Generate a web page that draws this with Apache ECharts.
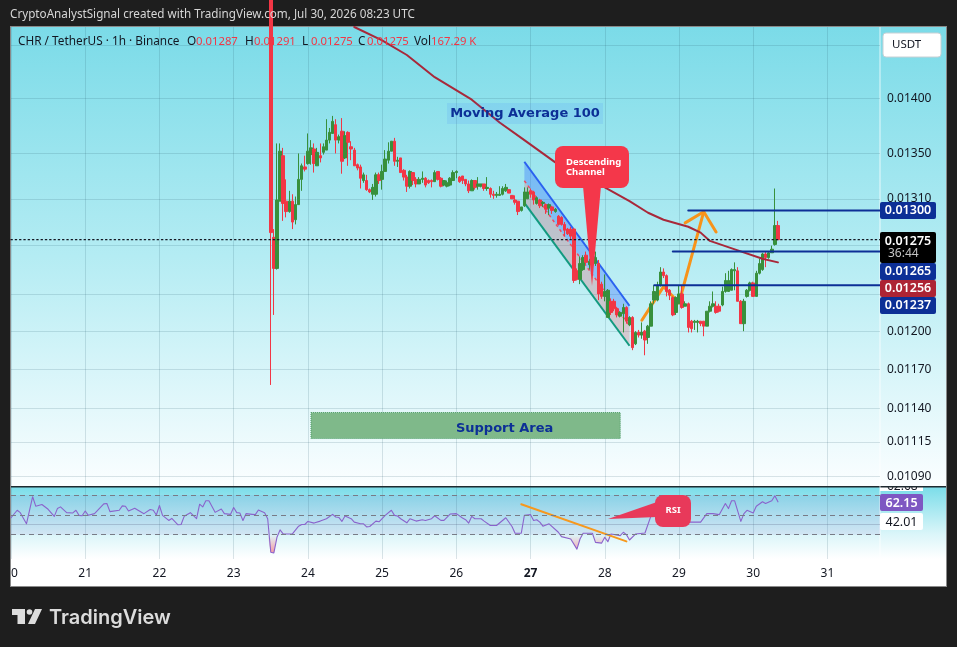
<!DOCTYPE html>
<html>
<head>
<meta charset="utf-8">
<title>CHR / TetherUS</title>
<style>html,body{margin:0;padding:0;background:#1e1e1e}#main{width:957px;height:647px}</style>
<script src="https://cdn.jsdelivr.net/npm/echarts@6/dist/echarts.min.js"></script>
</head>
<body>
<div id="main"></div>
<script>
// hourly axis: 20th 00:00 to 31st + 17h
const days = [20, 21, 22, 23, 24, 25, 26, 27, 28, 29, 30, 31]
const hoursOnAxis = 282
const firstCandleHour = 84

// open, close, low, high
const candles = [
  [0.0150, 0.01281, 0.01158, 0.0152],
  [0.01277, 0.01251, 0.01213, 0.01284],
  [0.01251, 0.01309, 0.0125, 0.01359],
  [0.01308, 0.01352, 0.01308, 0.01359],
  [0.01348, 0.01306, 0.01291, 0.01355],
  [0.01308, 0.01299, 0.01294, 0.01327],
  [0.01299, 0.01308, 0.01298, 0.01317],
  [0.01308, 0.0129, 0.01284, 0.01314],
  [0.01292, 0.01305, 0.01288, 0.01312],
  [0.01305, 0.01327, 0.01305, 0.0135],
  [0.01327, 0.01339, 0.01317, 0.01341],
  [0.01338, 0.01336, 0.01334, 0.01348],
  [0.01341, 0.01352, 0.0134, 0.01368],
  [0.01349, 0.01355, 0.0134, 0.01362],
  [0.01354, 0.01341, 0.01333, 0.01359],
  [0.01339, 0.01351, 0.01339, 0.01355],
  [0.01348, 0.01346, 0.01342, 0.01359],
  [0.01351, 0.01356, 0.01349, 0.01359],
  [0.01353, 0.01362, 0.01353, 0.01381],
  [0.01362, 0.01369, 0.01359, 0.01373],
  [0.01368, 0.01379, 0.01368, 0.01384],
  [0.01376, 0.01362, 0.0135, 0.01381],
  [0.01362, 0.01365, 0.01359, 0.01367],
  [0.0137, 0.01343, 0.01332, 0.01382],
  [0.01346, 0.01366, 0.01345, 0.0137],
  [0.01369, 0.0136, 0.01339, 0.0137],
  [0.01356, 0.01354, 0.01344, 0.01361],
  [0.01353, 0.01339, 0.01339, 0.01355],
  [0.0134, 0.01337, 0.01335, 0.01341],
  [0.01338, 0.01328, 0.01319, 0.0134],
  [0.01326, 0.01331, 0.01324, 0.01333],
  [0.01326, 0.01318, 0.01317, 0.01331],
  [0.01318, 0.01316, 0.01315, 0.01319],
  [0.01314, 0.0132, 0.01309, 0.01323],
  [0.01314, 0.01331, 0.01312, 0.01333],
  [0.01331, 0.01326, 0.01323, 0.01333],
  [0.01327, 0.01334, 0.01318, 0.0134],
  [0.01334, 0.01345, 0.01334, 0.01353],
  [0.01344, 0.01352, 0.01341, 0.0136],
  [0.01352, 0.01361, 0.01352, 0.01361],
  [0.01361, 0.01343, 0.01339, 0.01364],
  [0.01343, 0.01344, 0.01338, 0.01347],
  [0.01346, 0.01333, 0.01333, 0.01346],
  [0.01335, 0.01329, 0.01326, 0.01336],
  [0.01329, 0.01321, 0.01316, 0.01331],
  [0.01321, 0.01334, 0.01319, 0.01335],
  [0.01333, 0.01326, 0.01322, 0.01333],
  [0.01327, 0.01323, 0.0132, 0.01329],
  [0.01323, 0.01327, 0.01323, 0.01329],
  [0.01327, 0.01328, 0.01324, 0.01334],
  [0.01328, 0.01322, 0.0132, 0.01329],
  [0.01326, 0.01324, 0.01323, 0.01327],
  [0.01326, 0.01325, 0.0132, 0.01327],
  [0.01325, 0.01333, 0.01325, 0.01335],
  [0.01334, 0.01327, 0.01326, 0.01334],
  [0.01328, 0.01321, 0.0132, 0.01329],
  [0.01322, 0.01326, 0.01321, 0.01326],
  [0.01321, 0.01324, 0.0132, 0.01326],
  [0.01322, 0.01328, 0.01321, 0.01329],
  [0.01326, 0.01333, 0.01326, 0.01335],
  [0.01333, 0.01334, 0.01328, 0.01335],
  [0.01329, 0.01325, 0.01324, 0.0133],
  [0.0133, 0.01326, 0.01323, 0.0133],
  [0.01327, 0.01323, 0.01321, 0.01327],
  [0.01323, 0.01317, 0.01315, 0.01326],
  [0.01317, 0.01326, 0.01317, 0.01327],
  [0.01326, 0.0132, 0.01318, 0.01326],
  [0.01321, 0.01323, 0.01318, 0.01329],
  [0.01321, 0.01323, 0.0132, 0.01323],
  [0.01323, 0.01319, 0.01317, 0.01323],
  [0.01319, 0.0132, 0.01317, 0.01329],
  [0.01319, 0.01314, 0.01311, 0.0132],
  [0.01314, 0.01313, 0.0131, 0.01317],
  [0.01313, 0.01314, 0.01311, 0.01316],
  [0.01313, 0.01314, 0.01313, 0.01321],
  [0.01314, 0.01319, 0.01313, 0.01321],
  [0.01317, 0.0132, 0.01316, 0.01323],
  [0.01318, 0.01315, 0.01315, 0.01318],
  [0.01313, 0.0131, 0.0131, 0.01313],
  [0.01309, 0.01307, 0.01305, 0.01313],
  [0.01308, 0.01299, 0.01296, 0.01308],
  [0.013, 0.01303, 0.01299, 0.01303],
  [0.01304, 0.01316, 0.01303, 0.0132],
  [0.0131, 0.01316, 0.0131, 0.0132],
  [0.01317, 0.01314, 0.01311, 0.01319],
  [0.01316, 0.01309, 0.01305, 0.01317],
  [0.01306, 0.01311, 0.01305, 0.01312],
  [0.01309, 0.01304, 0.01302, 0.0131],
  [0.01306, 0.01307, 0.01303, 0.01308],
  [0.01305, 0.01301, 0.01297, 0.01306],
  [0.01302, 0.01305, 0.01296, 0.01306],
  [0.01303, 0.013, 0.01297, 0.01304],
  [0.01299, 0.01301, 0.01298, 0.01302],
  [0.01295, 0.01288, 0.01287, 0.01296],
  [0.01294, 0.01288, 0.01287, 0.01295],
  [0.01288, 0.01283, 0.01278, 0.0129],
  [0.01284, 0.0128, 0.01279, 0.01285],
  [0.01284, 0.01278, 0.01275, 0.01286],
  [0.01284, 0.01241, 0.01239, 0.01285],
  [0.01249, 0.01242, 0.01241, 0.01251],
  [0.01242, 0.01255, 0.01238, 0.01261],
  [0.0125, 0.0126, 0.01249, 0.01262],
  [0.01262, 0.01256, 0.01254, 0.01265],
  [0.01254, 0.01257, 0.0125, 0.01259],
  [0.01257, 0.01254, 0.01251, 0.01261],
  [0.01255, 0.0126, 0.01253, 0.01265],
  [0.01255, 0.0123, 0.01225, 0.01258],
  [0.01238, 0.01228, 0.01226, 0.0124],
  [0.01228, 0.01232, 0.01224, 0.01246],
  [0.01211, 0.01233, 0.01211, 0.01234],
  [0.01224, 0.01215, 0.01213, 0.01226],
  [0.01224, 0.01218, 0.01216, 0.01226],
  [0.01218, 0.01213, 0.01211, 0.01219],
  [0.01212, 0.01215, 0.01211, 0.01216],
  [0.01214, 0.01219, 0.01199, 0.01222],
  [0.01219, 0.01208, 0.01206, 0.0122],
  [0.01205, 0.01211, 0.01204, 0.01212],
  [0.01211, 0.01187, 0.01185, 0.01212],
  [0.0119, 0.01199, 0.01189, 0.012],
  [0.01199, 0.01197, 0.01195, 0.01201],
  [0.01197, 0.01199, 0.01194, 0.01207],
  [0.012, 0.01193, 0.01181, 0.01201],
  [0.01195, 0.01204, 0.0119, 0.01205],
  [0.01204, 0.01222, 0.01204, 0.01224],
  [0.01225, 0.01232, 0.01222, 0.01237],
  [0.01225, 0.01237, 0.01224, 0.0124],
  [0.01237, 0.01248, 0.01236, 0.01252],
  [0.01248, 0.01245, 0.01243, 0.01251],
  [0.01245, 0.01232, 0.01228, 0.01246],
  [0.01233, 0.01229, 0.01225, 0.01234],
  [0.01227, 0.01213, 0.01212, 0.01228],
  [0.01215, 0.01227, 0.01213, 0.01228],
  [0.01222, 0.0123, 0.01222, 0.01237],
  [0.0123, 0.01219, 0.01218, 0.01237],
  [0.0122, 0.01222, 0.0122, 0.01224],
  [0.01222, 0.01203, 0.01199, 0.01223],
  [0.01208, 0.01202, 0.01199, 0.01209],
  [0.01207, 0.01208, 0.01201, 0.01209],
  [0.01207, 0.01208, 0.01199, 0.01209],
  [0.01208, 0.01206, 0.01204, 0.01208],
  [0.01208, 0.01204, 0.01196, 0.01208],
  [0.01204, 0.01216, 0.01204, 0.01216],
  [0.01216, 0.0122, 0.01215, 0.01224],
  [0.0122, 0.01222, 0.01219, 0.01232],
  [0.0122, 0.01215, 0.01214, 0.01224],
  [0.0122, 0.01216, 0.01215, 0.01222],
  [0.01221, 0.01232, 0.0122, 0.01236],
  [0.01232, 0.01241, 0.01231, 0.01247],
  [0.01232, 0.01241, 0.01232, 0.01249],
  [0.01233, 0.0125, 0.01233, 0.01251],
  [0.01249, 0.0125, 0.01233, 0.01256],
  [0.01249, 0.01224, 0.01224, 0.01252],
  [0.01224, 0.01206, 0.01206, 0.01225],
  [0.01206, 0.01224, 0.012, 0.01226],
  [0.01228, 0.01233, 0.01227, 0.01234],
  [0.01233, 0.01239, 0.01232, 0.0124],
  [0.01239, 0.01228, 0.01228, 0.0124],
  [0.01228, 0.01247, 0.01228, 0.01249],
  [0.01247, 0.01255, 0.01246, 0.01259],
  [0.0125, 0.01263, 0.01249, 0.01264],
  [0.01263, 0.0126, 0.01252, 0.01265],
  [0.0126, 0.01264, 0.01259, 0.01265],
  [0.01264, 0.01267, 0.01264, 0.0127],
  [0.01271, 0.01287, 0.0127, 0.01319],
  [0.01287, 0.01275, 0.01275, 0.01291]
]

const ma100Hours = [111, 120, 128, 137, 149, 158, 166, 176, 192, 200, 206, 211, 219, 223, 226, 235, 243, 248]
const ma100Values = [0.01468, 0.01455, 0.01441, 0.0142, 0.01399, 0.01378, 0.01362, 0.01342, 0.0132, 0.01308, 0.01298, 0.01292, 0.01286, 0.01281, 0.01274, 0.01266, 0.01259, 0.01256]

const rsiHours = [0, 2, 3, 5, 7, 8, 10, 12, 14, 15, 16, 18, 20, 21, 22, 23, 24, 25, 27, 30, 31, 32, 35, 36, 37, 38, 40, 43, 45, 46, 47, 48, 49, 51, 52, 54, 55, 56, 58, 60, 61, 62, 63, 64, 66, 68, 69, 71, 72, 73, 74, 75, 76, 78, 79, 80, 82, 83, 84, 85, 86, 87, 88, 91, 93, 94, 95, 96, 98, 100, 102, 104, 105, 106, 107, 108, 110, 111, 113, 114, 115, 116, 118, 119, 121, 123, 124, 125, 126, 128, 129, 131, 133, 134, 136, 137, 139, 140, 142, 144, 146, 147, 148, 149, 150, 152, 153, 155, 157, 160, 162, 163, 165, 166, 168, 169, 170, 171, 172, 174, 177, 178, 181, 183, 184, 185, 188, 189, 191, 192, 193, 194, 197, 198, 199, 200, 202, 205, 207, 210, 211, 214, 215, 217, 219, 223, 225, 227, 229, 231, 232, 233, 234, 236, 237, 238, 240, 241, 243, 244, 246, 247, 248]
const rsiValues = [47.1, 54.6, 52.2, 41, 68.2, 58.7, 60.4, 55.6, 48.5, 56.3, 58, 52.2, 51.9, 54.6, 49.5, 49.1, 53.9, 49.5, 51.2, 61, 61.4, 53.2, 54.6, 59, 58.7, 53.9, 56.6, 51.2, 55.3, 54.6, 49.8, 59.4, 49.5, 44.4, 46.4, 40, 40.3, 48.5, 52.2, 46.1, 60.7, 58, 64.1, 64.1, 52.5, 55.9, 51.2, 50.5, 57.3, 52.2, 51.9, 44.4, 51.2, 50.5, 50.2, 54.9, 52.2, 46.1, 12.4, 11.7, 27.4, 34.9, 30.8, 30.8, 38.6, 40.3, 40.3, 43.4, 41.7, 43.7, 46.1, 50.5, 47.8, 47.4, 43.4, 48.8, 46.1, 42.7, 41, 41, 37.9, 38.3, 43.7, 43, 49.5, 54.6, 49.5, 48.8, 46.1, 42, 46.1, 43.7, 45.1, 44.4, 46.1, 49.1, 44.4, 44.4, 50.8, 51.2, 46.8, 45.1, 41.7, 48.5, 46.1, 46.1, 43.7, 39.3, 39.3, 47.1, 38.3, 31.5, 31.5, 49.5, 50.2, 44.4, 45.1, 42.7, 38.6, 41, 32.5, 28.1, 25.7, 15.5, 25.7, 31.5, 31.5, 22.3, 21.6, 27.4, 23, 30.8, 29.1, 32.5, 30.1, 24.7, 30.8, 31.8, 49.5, 59.7, 51.2, 43.4, 49.5, 47.8, 42.7, 42.7, 51.2, 51.2, 50.2, 61.4, 56.3, 64.1, 64.1, 43.4, 51.2, 54.6, 51.9, 58.7, 63.1, 61.4, 64.1, 69.2, 63.1]

const priceTicks = [0.0145, 0.014, 0.0135, 0.0131, 0.0127, 0.0123, 0.012, 0.0117, 0.0114, 0.01115, 0.0109]
const rsiBands = [70, 50, 30]
const levelPrices = [0.013, 0.01265, 0.01237]
const levelStarts = [219, 214, 208]
const lastPrice = 0.01275

// Descending channel drawing
const channelHours = [166, 200]
const channelTop = [0.013426, 0.012204]
const channelMid = [0.013258, 0.012043]
const channelBottom = [0.013065, 0.011885]

// orange hand-drawn arrow
const arrowHours = [204, 211, 216, 224]
const arrowPrices = [0.012087, 0.01236, 0.012227, 0.012989]
const arrowHeadHours = [218, 224, 228]
const arrowHeadPrices = [0.012893, 0.012989, 0.012816]
const rsiTrendHours = [165, 199]
const rsiTrendValues = [60.7, 23.3]

const supportHours = [97, 197]
const supportPrices = [0.01137, 0.011176]

const font = '"Noto Sans", sans-serif'
const green = '#38903c'
const red = '#f23645'
const navy = '#0c2f96'

const categories = []
for (let h = 0; h < hoursOnAxis; h++) categories.push(h % 24 === 0 ? String(days[h / 24]) : '')

const candleData = new Array(firstCandleHour).fill('-').concat(candles)
const zip = (xs, ys) => xs.map((x, i) => [x, ys[i]])

const rsiData = zip(rsiHours, rsiValues)
const rsiLow = rsiHours.map((h, i) => [h, Math.min(rsiValues[i], 30)])

function plainLine(name, data, color, width, z, type, axis) {
  return {
    name, type: 'line', data,
    xAxisIndex: axis || 0, yAxisIndex: axis || 0,
    symbol: 'none', silent: true, z,
    lineStyle: { color, width, type: type || 'solid', cap: 'round', join: 'round' }
  }
}

function renderChannel(params, api) {
  const pts = ys => channelHours.map((h, i) => api.coord([h, ys[i]]))
  const top = pts(channelTop)
  const mid = pts(channelMid)
  const bot = pts(channelBottom)
  return {
    type: 'group',
    children: [
      { type: 'polygon', shape: { points: top.concat(mid.slice().reverse()) }, style: { fill: 'rgba(41,98,255,0.32)' } },
      { type: 'polygon', shape: { points: mid.concat(bot.slice().reverse()) }, style: { fill: 'rgba(242,54,69,0.22)' } },
      { type: 'polyline', shape: { points: mid }, style: { stroke: '#ef4a62', lineWidth: 1.5, lineDash: [3, 3], fill: null } },
      { type: 'polyline', shape: { points: top }, style: { stroke: '#2a62f0', lineWidth: 2, fill: null } },
      { type: 'polyline', shape: { points: bot }, style: { stroke: '#129a80', lineWidth: 2, fill: null } }
    ]
  }
}

function rect(x, y, w, h, fill, z, r) {
  return { type: 'rect', silent: true, z, shape: { x, y, width: w, height: h, r: r || 0 }, style: { fill } }
}
function text(x, y, str, fill, size, z, extra) {
  return {
    type: 'text', silent: true, z, x, y,
    style: Object.assign({ text: str, fill, font: `${size}px ${font}`, textVerticalAlign: 'middle' }, extra || {})
  }
}
function tag(y, h, label, bg) {
  return [
    rect(880, y, 56, h, bg, 50, 2),
    text(908, y + h / 2, label, '#fff', 12.5, 51, { textAlign: 'center', font: `600 12.5px ${font}` })
  ]
}

const vGrad = stops => ({ type: 'linear', x: 0, y: 0, x2: 0, y2: 1, colorStops: stops })

const legendRed = [[196, '0.01287'], [254, '0.01291'], [311, '0.01275'], [367, '0.01275'], [431, '167.29 K']]
const legendBlack = [[187, 'O'], [245, 'H'], [302, 'L'], [358, 'C'], [414, 'Vol']]

const graphics = [
  // frame and pane backgrounds
  rect(10, 26, 937, 561, '#8a8a8a', -6),
  rect(11, 27, 935, 559, '#ffffff', -5),
  rect(11, 487, 935, 72, vGrad([{ offset: 0, color: '#7bdde9' }, { offset: 0.65, color: '#daf5f9' }, { offset: 1, color: '#ffffff' }]), -4),
  rect(880, 484, 43, 7, '#ffffff', -3),
  text(887, 486.5, '62.68', '#131722', 12, -3),
  rect(11, 27, 935, 459, vGrad([{ offset: 0, color: '#7bdbe8' }, { offset: 0.5, color: '#b4ecf3' }, { offset: 1, color: '#fbfeff' }]), -2),
  rect(11, 486, 935, 1.4, '#1e2a30', -1),
  rect(879.5, 27, 1, 532, 'rgba(255,255,255,0.75)', -1),

  // header and legend
  text(10, 15, 'CryptoAnalystSignal created with TradingView.com, Jul 30, 2026 08:23 UTC', '#d6d6d6', 11.7, 60),
  text(18, 42, 'CHR / TetherUS · 1h · Binance', '#131722', 11.8, 60),
  ...legendBlack.map(([x, s]) => text(x, 42, s, '#131722', 11.8, 60)),
  ...legendRed.map(([x, s]) => text(x, 42, s, red, 11.3, 60)),

  // USDT button
  rect(883, 33, 58, 24, '#ffffff', 50, 3),
  { type: 'rect', silent: true, z: 50, shape: { x: 883, y: 33, width: 58, height: 24, r: 3 }, style: { fill: 'none', stroke: '#c8d0d4', lineWidth: 1 } },
  text(892, 45, 'USDT', '#131722', 11.5, 51),

  // Moving Average note
  rect(447, 103, 156, 21, 'rgba(41,98,255,0.10)', 20),
  text(525, 114, 'Moving Average 100', navy, 13, 21, { textAlign: 'center', font: '600 13px "DejaVu Sans", sans-serif' }),

  // callouts
  { type: 'polygon', silent: true, z: 30, shape: { points: [[583, 186], [601, 186], [592, 286]] }, style: { fill: '#f4374a' } },
  rect(555, 146, 74, 42, '#f4374a', 30, 8),
  text(566, 162, 'Descending', '#fff', 9.5, 31, { font: `700 9.5px ${font}` }),
  text(566, 172, 'Channel', '#fff', 9.5, 31, { font: `700 9.5px ${font}` }),
  { type: 'polygon', silent: true, z: 30, shape: { points: [[608, 519], [657, 502], [657, 517]] }, style: { fill: '#e8395a' } },
  rect(655, 495, 36, 32, '#e8395a', 30, 8),
  text(673, 510, 'RSI', '#fff', 9.5, 31, { textAlign: 'center', font: `700 9.5px ${font}` }),

  // price tags
  ...tag(202, 17, '0.01300', navy),
  rect(880, 232, 56, 31, '#000000', 50, 2),
  text(908, 241, '0.01275', '#fff', 12.5, 51, { textAlign: 'center', font: `600 12.5px ${font}` }),
  text(888, 254, '36:44', '#c4c4c4', 12, 51),
  ...tag(263, 17, '0.01265', navy),
  ...tag(280, 17, '0.01256', '#ad2434'),
  ...tag(297, 17, '0.01237', navy),
  rect(880, 494, 43, 17, '#7e57c2', 50, 2),
  text(901.5, 503, '62.15', '#fff', 12.5, 51, { textAlign: 'center', font: `600 12.5px ${font}` }),
  rect(880, 513, 43, 17, '#ffffff', 50, 2),
  text(901.5, 522, '42.01', '#131722', 12.5, 51, { textAlign: 'center' }),

  // TradingView logo
  { type: 'polygon', silent: true, z: 60, shape: { points: [[12, 609], [25, 609], [25, 624], [17.5, 624], [17.5, 615], [12, 615]] }, style: { fill: '#dcdcdc' } },
  { type: 'circle', silent: true, z: 60, shape: { cx: 29.5, cy: 612, r: 2.8 }, style: { fill: '#dcdcdc' } },
  { type: 'polygon', silent: true, z: 60, shape: { points: [[35, 609], [42, 609], [35, 624], [28, 624]] }, style: { fill: '#dcdcdc' } },
  text(49, 618, 'TradingView', '#dcdcdc', 20, 60, { font: `600 20px Inter, ${font}` })
]

const splitColor = 'rgba(40,90,105,0.16)'

const option = {
  animation: false,
  backgroundColor: '#1e1e1e',
  textStyle: { fontFamily: font },
  grid: [
    { left: 11, right: 77, top: 27, height: 459 },
    { left: 11, right: 77, top: 487, height: 72 }
  ],
  xAxis: [
    {
      type: 'category', gridIndex: 0, data: categories, boundaryGap: false,
      axisLine: { show: false }, axisTick: { show: false }, axisLabel: { show: false },
      splitLine: { show: true, interval: 23, lineStyle: { color: splitColor, width: 1 } }
    },
    {
      type: 'category', gridIndex: 1, data: categories, boundaryGap: false,
      axisLine: { show: false }, axisTick: { show: false },
      splitLine: { show: true, interval: 23, lineStyle: { color: splitColor, width: 1 } },
      axisLabel: {
        interval: 23, margin: 9, color: '#131722', fontSize: 12, fontFamily: font,
        formatter: v => v === '20' ? '{first|0}' : v === '27' ? '{bold|27}' : v,
        rich: {
          first: { color: '#131722', fontSize: 12, padding: [0, 0, 0, 7] },
          bold: { color: '#131722', fontSize: 12, fontWeight: 700 }
        }
      }
    }
  ],
  yAxis: [
    {
      type: 'log', gridIndex: 0, position: 'right', logBase: 10,
      min: 0.01083, max: 0.01468, scale: true,
      axisLine: { show: false },
      axisTick: { show: false, customValues: priceTicks },
      splitLine: { show: true, lineStyle: { color: splitColor, width: 1 } },
      axisLabel: { customValues: priceTicks, color: '#131722', fontSize: 12, margin: 7, formatter: v => Number(v).toFixed(5) }
    },
    {
      type: 'value', gridIndex: 1, position: 'right', min: 5.6, max: 78,
      axisLine: { show: false }, axisLabel: { show: false },
      axisTick: { show: false, customValues: [41] },
      splitLine: { show: true, lineStyle: { color: 'rgba(70,85,110,0.25)', width: 1 } }
    }
  ],
  graphic: { elements: graphics },
  series: [
    {
      name: 'channel', type: 'custom', renderItem: renderChannel, silent: true, z: 1,
      data: [[channelHours[0], channelTop[0]]], encode: { x: 0, y: 1 }
    },
    plainLine('arrow', zip(arrowHours, arrowPrices), '#f7931a', 3, 1),
    plainLine('arrow head', zip(arrowHeadHours, arrowHeadPrices), '#f7931a', 3, 1),
    {
      name: 'CHR', type: 'candlestick', data: candleData, barWidth: 3, z: 2, silent: true,
      itemStyle: { color: green, color0: red, borderColor: green, borderColor0: red, borderWidth: 1 },
      markArea: {
        silent: true, z: 1,
        itemStyle: { color: '#7fb98a', borderColor: '#4f9d68', borderType: 'dotted', borderWidth: 1 },
        label: { position: 'inside', color: navy, fontFamily: '"DejaVu Sans", sans-serif', fontSize: 13, fontWeight: 600, offset: [39, 3] },
        data: [[
          { name: 'Support Area', xAxis: supportHours[0], yAxis: supportPrices[0] },
          { xAxis: supportHours[1], yAxis: supportPrices[1] }
        ]]
      }
    },
    plainLine('MA100', zip(ma100Hours, ma100Values), '#a8283a', 2, 3),
    ...levelPrices.map((p, i) => plainLine('level ' + p, [[levelStarts[i], p], [hoursOnAxis - 1, p]], navy, 2, 3)),
    plainLine('last', [[0, lastPrice], [hoursOnAxis - 1, lastPrice]], '#131722', 1.3, 3, [1.3, 3]),
    {
      name: 'rsi low', type: 'line', xAxisIndex: 1, yAxisIndex: 1, data: rsiLow, symbol: 'none', silent: true, z: 2,
      lineStyle: { width: 0 },
      areaStyle: {
        origin: 30, opacity: 1,
        color: vGrad([{ offset: 0, color: 'rgba(242,54,69,0)' }, { offset: 1, color: 'rgba(242,54,69,0.5)' }])
      }
    },
    Object.assign(plainLine('rsi', rsiData, '#8a63cc', 1.1, 3, 'solid', 1), {
      markArea: {
        silent: true, itemStyle: { color: 'rgba(126,87,194,0.1)' },
        data: [[{ yAxis: rsiBands[0] }, { yAxis: rsiBands[2] }]]
      },
      markLine: {
        silent: true, symbol: 'none', label: { show: false },
        lineStyle: { color: '#787b86', type: [5, 4], width: 1 },
        data: rsiBands.map(v => ({ yAxis: v }))
      }
    }),
    plainLine('rsi trend', zip(rsiTrendHours, rsiTrendValues), '#f7981d', 2, 4, 'solid', 1)
  ]
}

const chart = echarts.init(document.getElementById('main'), null, { renderer: 'canvas' })
chart.setOption(option)
</script>
</body>
</html>
